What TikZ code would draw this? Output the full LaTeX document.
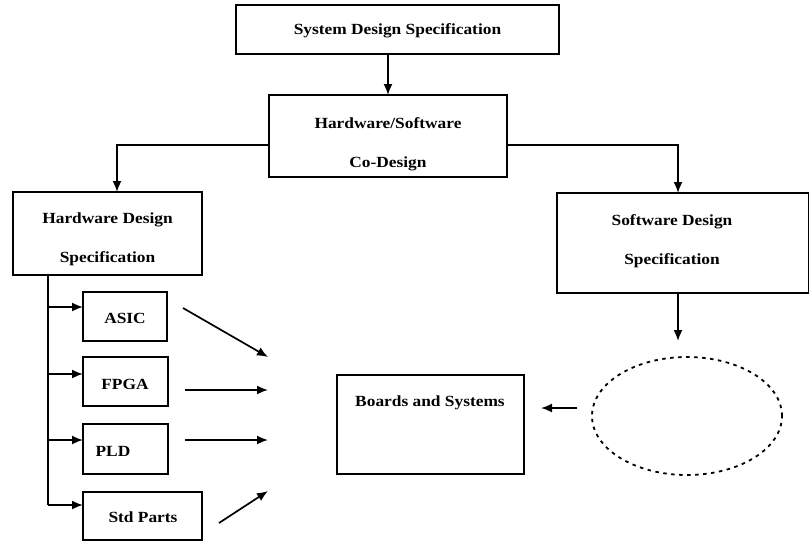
\documentclass[tikz,border=0pt]{standalone}
\usepackage{fontspec}
\newfontfamily\lblfont{Liberation Serif}[FakeStretch=1.12]
\usetikzlibrary{arrows.meta,shapes.geometric}
\begin{document}
\begin{tikzpicture}[x=1pt, y={(0pt,-1pt)},
  box/.style={draw, line width=1.8pt, inner sep=0pt, outer sep=0pt},
  lbl/.style={font=\lblfont\bfseries\fontsize{15.5}{39}\selectfont, align=center, inner sep=0pt},
  conn/.style={line width=1.7pt},
  arr/.style={conn, -{Latex[length=11pt,width=9pt]}},
  ring/.style={draw, line width=1.8pt, dash pattern=on 3.5pt off 4.5pt}
]
\useasboundingbox (0,0) rectangle (809,542);

% top-level specification and co-design
\node[box, minimum width=323pt, minimum height=49pt] (sys) at (397.5,29.5) {};
\node[lbl] (syst) at (397.5,31) {System Design Specification};
\node[box, minimum width=238pt, minimum height=82pt] (cod) at (388,136) {};
\node[lbl] (codt) at (388,144) {Hardware/Software\\Co-Design};

% hardware and software specifications
\node[box, minimum width=189pt, minimum height=83pt] (hw) at (107.5,233.5) {};
\node[lbl] (hwt) at (107.5,239) {Hardware Design\\Specification};
\node[box, minimum width=252pt, minimum height=100pt] (sw) at (683,243) {};
\node[lbl] (swt) at (672,241.5) {Software Design\\Specification};

% hardware implementation targets
\node[box, minimum width=84pt, minimum height=49pt] (asic) at (125,316.5) {};
\node[lbl] (asict) at (125,318) {ASIC};
\node[box, minimum width=85pt, minimum height=49pt] (fpga) at (125.5,381.5) {};
\node[lbl] (fpgat) at (125,384) {FPGA};
\node[box, minimum width=85pt, minimum height=50pt] (pld) at (125.5,449) {};
\node[lbl] (pldt) at (113,451) {PLD};
\node[box, minimum width=119pt, minimum height=48pt] (std) at (142.5,516) {};
\node[lbl] (stdt) at (143,517) {Std Parts};

% boards and the software ring
\node[box, minimum width=187pt, minimum height=99pt] (brd) at (430.5,424.5) {};
\node[lbl] (brdt) at (430,403) {Boards and Systems};
\node[ring, ellipse, minimum width=190pt, minimum height=118pt, inner sep=0pt] (swring) at (687,416) {};

% free ends of the open arrows
\coordinate (asicA) at (183,308);  \coordinate (asicB) at (268,357);
\coordinate (fpgaA) at (185,390);  \coordinate (fpgaB) at (268,390);
\coordinate (pldA)  at (185,440);  \coordinate (pldB)  at (268,440);
\coordinate (stdA)  at (219,523);  \coordinate (stdB)  at (268,491);
\coordinate (swEnd) at (678,341);
\coordinate (ringA) at (577,408);  \coordinate (ringB) at (541,408);
\coordinate (trunk) at (48,505);

% connectors
\draw[arr] (sys.south -| cod.north) -- (cod.north);
\draw[arr] ([yshift=-9pt]cod.west) -| ([xshift=9.5pt]hw.north);
\draw[arr] ([yshift=-9pt]cod.east) -| ([xshift=-5pt]sw.north);
\draw[arr] ([xshift=-5pt]sw.south) -- (swEnd);
\draw[arr] (ringA) -- (ringB);

\draw[conn] (hw.south -| trunk) -- (trunk);
\draw[arr] (trunk |- asict.center) ++(0,-11) -- ([yshift=11pt]asict.center -| asic.west);
\draw[arr] (trunk |- fpgat.center) ++(0,-10) -- ([yshift=10pt]fpgat.center -| fpga.west);
\draw[arr] (trunk |- pldt.center) ++(0,-11) -- ([yshift=11pt]pldt.center -| pld.west);
\draw[arr] (trunk) -- (trunk -| std.west);

\draw[arr] (asicA) -- (asicB);
\draw[arr] (fpgaA) -- (fpgaB);
\draw[arr] (pldA) -- (pldB);
\draw[arr] (stdA) -- (stdB);
\end{tikzpicture}
\end{document}
